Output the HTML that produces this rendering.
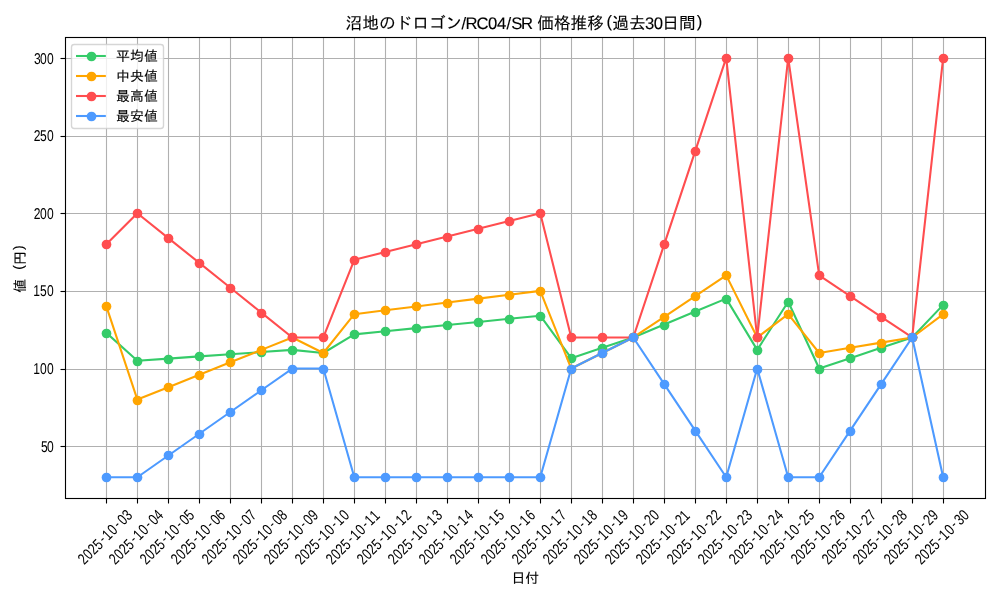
<!DOCTYPE html>
<html lang="ja"><head><meta charset="utf-8"><title>沼地のドロゴン/RC04/SR 価格推移(過去30日間)</title>
<style>html,body{margin:0;padding:0;background:#fff;overflow:hidden}svg{display:block}text{font-family:"Liberation Sans", "IPAGothic", "Noto Sans CJK JP", sans-serif;fill:#000;text-rendering:geometricPrecision}.j{stroke:#000;stroke-width:0.12px}</style>
</head><body>
<svg width="1000" height="600" viewBox="0 0 1000 600">
<rect width="1000" height="600" fill="#fff"/>
<g stroke="#b0b0b0" stroke-width="1.11" fill="none">
<line x1="106.5" y1="36.99" x2="106.5" y2="498.19"/>
<line x1="137.5" y1="36.99" x2="137.5" y2="498.19"/>
<line x1="168.5" y1="36.99" x2="168.5" y2="498.19"/>
<line x1="199.5" y1="36.99" x2="199.5" y2="498.19"/>
<line x1="230.5" y1="36.99" x2="230.5" y2="498.19"/>
<line x1="261.5" y1="36.99" x2="261.5" y2="498.19"/>
<line x1="292.5" y1="36.99" x2="292.5" y2="498.19"/>
<line x1="323.5" y1="36.99" x2="323.5" y2="498.19"/>
<line x1="354.5" y1="36.99" x2="354.5" y2="498.19"/>
<line x1="385.5" y1="36.99" x2="385.5" y2="498.19"/>
<line x1="416.5" y1="36.99" x2="416.5" y2="498.19"/>
<line x1="447.5" y1="36.99" x2="447.5" y2="498.19"/>
<line x1="478.5" y1="36.99" x2="478.5" y2="498.19"/>
<line x1="509.5" y1="36.99" x2="509.5" y2="498.19"/>
<line x1="540.5" y1="36.99" x2="540.5" y2="498.19"/>
<line x1="571.5" y1="36.99" x2="571.5" y2="498.19"/>
<line x1="602.5" y1="36.99" x2="602.5" y2="498.19"/>
<line x1="633.5" y1="36.99" x2="633.5" y2="498.19"/>
<line x1="664.5" y1="36.99" x2="664.5" y2="498.19"/>
<line x1="695.5" y1="36.99" x2="695.5" y2="498.19"/>
<line x1="726.5" y1="36.99" x2="726.5" y2="498.19"/>
<line x1="757.5" y1="36.99" x2="757.5" y2="498.19"/>
<line x1="788.5" y1="36.99" x2="788.5" y2="498.19"/>
<line x1="819.5" y1="36.99" x2="819.5" y2="498.19"/>
<line x1="850.5" y1="36.99" x2="850.5" y2="498.19"/>
<line x1="881.5" y1="36.99" x2="881.5" y2="498.19"/>
<line x1="912.5" y1="36.99" x2="912.5" y2="498.19"/>
<line x1="943.5" y1="36.99" x2="943.5" y2="498.19"/>
<line x1="64.53" y1="446.5" x2="985" y2="446.5"/>
<line x1="64.53" y1="369.5" x2="985" y2="369.5"/>
<line x1="64.53" y1="291.5" x2="985" y2="291.5"/>
<line x1="64.53" y1="213.5" x2="985" y2="213.5"/>
<line x1="64.53" y1="136.5" x2="985" y2="136.5"/>
<line x1="64.53" y1="58.5" x2="985" y2="58.5"/>
</g>
<g stroke="#000" stroke-width="1.11" fill="none">
<line x1="106.5" y1="498.5" x2="106.5" y2="503.5"/>
<line x1="137.5" y1="498.5" x2="137.5" y2="503.5"/>
<line x1="168.5" y1="498.5" x2="168.5" y2="503.5"/>
<line x1="199.5" y1="498.5" x2="199.5" y2="503.5"/>
<line x1="230.5" y1="498.5" x2="230.5" y2="503.5"/>
<line x1="261.5" y1="498.5" x2="261.5" y2="503.5"/>
<line x1="292.5" y1="498.5" x2="292.5" y2="503.5"/>
<line x1="323.5" y1="498.5" x2="323.5" y2="503.5"/>
<line x1="354.5" y1="498.5" x2="354.5" y2="503.5"/>
<line x1="385.5" y1="498.5" x2="385.5" y2="503.5"/>
<line x1="416.5" y1="498.5" x2="416.5" y2="503.5"/>
<line x1="447.5" y1="498.5" x2="447.5" y2="503.5"/>
<line x1="478.5" y1="498.5" x2="478.5" y2="503.5"/>
<line x1="509.5" y1="498.5" x2="509.5" y2="503.5"/>
<line x1="540.5" y1="498.5" x2="540.5" y2="503.5"/>
<line x1="571.5" y1="498.5" x2="571.5" y2="503.5"/>
<line x1="602.5" y1="498.5" x2="602.5" y2="503.5"/>
<line x1="633.5" y1="498.5" x2="633.5" y2="503.5"/>
<line x1="664.5" y1="498.5" x2="664.5" y2="503.5"/>
<line x1="695.5" y1="498.5" x2="695.5" y2="503.5"/>
<line x1="726.5" y1="498.5" x2="726.5" y2="503.5"/>
<line x1="757.5" y1="498.5" x2="757.5" y2="503.5"/>
<line x1="788.5" y1="498.5" x2="788.5" y2="503.5"/>
<line x1="819.5" y1="498.5" x2="819.5" y2="503.5"/>
<line x1="850.5" y1="498.5" x2="850.5" y2="503.5"/>
<line x1="881.5" y1="498.5" x2="881.5" y2="503.5"/>
<line x1="912.5" y1="498.5" x2="912.5" y2="503.5"/>
<line x1="943.5" y1="498.5" x2="943.5" y2="503.5"/>
<line x1="60.5" y1="446.5" x2="65.5" y2="446.5"/>
<line x1="60.5" y1="369.5" x2="65.5" y2="369.5"/>
<line x1="60.5" y1="291.5" x2="65.5" y2="291.5"/>
<line x1="60.5" y1="213.5" x2="65.5" y2="213.5"/>
<line x1="60.5" y1="136.5" x2="65.5" y2="136.5"/>
<line x1="60.5" y1="58.5" x2="65.5" y2="58.5"/>
</g>
<polyline points="106.37,332.81 137.36,360.76 168.35,358.59 199.35,356.41 230.34,354.24 261.33,352.07 292.32,349.89 323.32,353 354.31,334.36 385.3,331.26 416.29,328.15 447.28,325.05 478.28,321.94 509.27,318.83 540.26,315.73 571.25,358.17 602.25,347.83 633.24,337.47 664.23,324.53 695.22,311.58 726.21,298.65 757.21,349.89 788.2,301.75 819.19,368.53 850.18,358.17 881.18,347.83 912.17,337.47 943.16,304.86" fill="none" stroke="#35cb69" stroke-width="2.08" stroke-linejoin="round" stroke-linecap="square"/>
<g fill="#35cb69">
<circle cx="106.5" cy="333.5" r="4.86"/>
<circle cx="137.5" cy="361.5" r="4.86"/>
<circle cx="168.5" cy="359.5" r="4.86"/>
<circle cx="199.5" cy="356.5" r="4.86"/>
<circle cx="230.5" cy="354.5" r="4.86"/>
<circle cx="261.5" cy="352.5" r="4.86"/>
<circle cx="292.5" cy="350.5" r="4.86"/>
<circle cx="323.5" cy="353.5" r="4.86"/>
<circle cx="354.5" cy="334.5" r="4.86"/>
<circle cx="385.5" cy="331.5" r="4.86"/>
<circle cx="416.5" cy="328.5" r="4.86"/>
<circle cx="447.5" cy="325.5" r="4.86"/>
<circle cx="478.5" cy="322.5" r="4.86"/>
<circle cx="509.5" cy="319.5" r="4.86"/>
<circle cx="540.5" cy="316.5" r="4.86"/>
<circle cx="571.5" cy="358.5" r="4.86"/>
<circle cx="602.5" cy="348.5" r="4.86"/>
<circle cx="633.5" cy="337.5" r="4.86"/>
<circle cx="664.5" cy="325.5" r="4.86"/>
<circle cx="695.5" cy="312.5" r="4.86"/>
<circle cx="726.5" cy="299.5" r="4.86"/>
<circle cx="757.5" cy="350.5" r="4.86"/>
<circle cx="788.5" cy="302.5" r="4.86"/>
<circle cx="819.5" cy="369.5" r="4.86"/>
<circle cx="850.5" cy="358.5" r="4.86"/>
<circle cx="881.5" cy="348.5" r="4.86"/>
<circle cx="912.5" cy="337.5" r="4.86"/>
<circle cx="943.5" cy="305.5" r="4.86"/>
</g>
<polyline points="106.37,306.41 137.36,399.58 168.35,387.16 199.35,374.74 230.34,362.31 261.33,349.89 292.32,337.47 323.32,353 354.31,314.18 385.3,310.29 416.29,306.41 447.28,302.53 478.28,298.65 509.27,294.77 540.26,290.88 571.25,368.53 602.25,353 633.24,337.47 664.23,316.77 695.22,296.05 726.21,275.35 757.21,337.47 788.2,314.18 819.19,353 850.18,347.83 881.18,342.64 912.17,337.47 943.16,314.18" fill="none" stroke="#ffa500" stroke-width="2.08" stroke-linejoin="round" stroke-linecap="square"/>
<g fill="#ffa500">
<circle cx="106.5" cy="306.5" r="4.86"/>
<circle cx="137.5" cy="400.5" r="4.86"/>
<circle cx="168.5" cy="387.5" r="4.86"/>
<circle cx="199.5" cy="375.5" r="4.86"/>
<circle cx="230.5" cy="362.5" r="4.86"/>
<circle cx="261.5" cy="350.5" r="4.86"/>
<circle cx="292.5" cy="337.5" r="4.86"/>
<circle cx="323.5" cy="353.5" r="4.86"/>
<circle cx="354.5" cy="314.5" r="4.86"/>
<circle cx="385.5" cy="310.5" r="4.86"/>
<circle cx="416.5" cy="306.5" r="4.86"/>
<circle cx="447.5" cy="303.5" r="4.86"/>
<circle cx="478.5" cy="299.5" r="4.86"/>
<circle cx="509.5" cy="295.5" r="4.86"/>
<circle cx="540.5" cy="291.5" r="4.86"/>
<circle cx="571.5" cy="369.5" r="4.86"/>
<circle cx="602.5" cy="353.5" r="4.86"/>
<circle cx="633.5" cy="337.5" r="4.86"/>
<circle cx="664.5" cy="317.5" r="4.86"/>
<circle cx="695.5" cy="296.5" r="4.86"/>
<circle cx="726.5" cy="275.5" r="4.86"/>
<circle cx="757.5" cy="337.5" r="4.86"/>
<circle cx="788.5" cy="314.5" r="4.86"/>
<circle cx="819.5" cy="353.5" r="4.86"/>
<circle cx="850.5" cy="348.5" r="4.86"/>
<circle cx="881.5" cy="343.5" r="4.86"/>
<circle cx="912.5" cy="337.5" r="4.86"/>
<circle cx="943.5" cy="314.5" r="4.86"/>
</g>
<polyline points="106.37,244.3 137.36,213.24 168.35,238.09 199.35,262.93 230.34,287.78 261.33,312.62 292.32,337.47 323.32,337.47 354.31,259.83 385.3,252.06 416.29,244.3 447.28,236.53 478.28,228.77 509.27,221 540.26,213.24 571.25,337.47 602.25,337.47 633.24,337.47 664.23,244.3 695.22,151.13 726.21,57.95 757.21,337.47 788.2,57.95 819.19,275.35 850.18,296.05 881.18,316.77 912.17,337.47 943.16,57.95" fill="none" stroke="#ff4d4f" stroke-width="2.08" stroke-linejoin="round" stroke-linecap="square"/>
<g fill="#ff4d4f">
<circle cx="106.5" cy="244.5" r="4.86"/>
<circle cx="137.5" cy="213.5" r="4.86"/>
<circle cx="168.5" cy="238.5" r="4.86"/>
<circle cx="199.5" cy="263.5" r="4.86"/>
<circle cx="230.5" cy="288.5" r="4.86"/>
<circle cx="261.5" cy="313.5" r="4.86"/>
<circle cx="292.5" cy="337.5" r="4.86"/>
<circle cx="323.5" cy="337.5" r="4.86"/>
<circle cx="354.5" cy="260.5" r="4.86"/>
<circle cx="385.5" cy="252.5" r="4.86"/>
<circle cx="416.5" cy="244.5" r="4.86"/>
<circle cx="447.5" cy="237.5" r="4.86"/>
<circle cx="478.5" cy="229.5" r="4.86"/>
<circle cx="509.5" cy="221.5" r="4.86"/>
<circle cx="540.5" cy="213.5" r="4.86"/>
<circle cx="571.5" cy="337.5" r="4.86"/>
<circle cx="602.5" cy="337.5" r="4.86"/>
<circle cx="633.5" cy="337.5" r="4.86"/>
<circle cx="664.5" cy="244.5" r="4.86"/>
<circle cx="695.5" cy="151.5" r="4.86"/>
<circle cx="726.5" cy="58.5" r="4.86"/>
<circle cx="757.5" cy="337.5" r="4.86"/>
<circle cx="788.5" cy="58.5" r="4.86"/>
<circle cx="819.5" cy="275.5" r="4.86"/>
<circle cx="850.5" cy="296.5" r="4.86"/>
<circle cx="881.5" cy="317.5" r="4.86"/>
<circle cx="912.5" cy="337.5" r="4.86"/>
<circle cx="943.5" cy="58.5" r="4.86"/>
</g>
<polyline points="106.37,477.23 137.36,477.23 168.35,455.49 199.35,433.75 230.34,412.01 261.33,390.27 292.32,368.53 323.32,368.53 354.31,477.23 385.3,477.23 416.29,477.23 447.28,477.23 478.28,477.23 509.27,477.23 540.26,477.23 571.25,368.53 602.25,353 633.24,337.47 664.23,384.05 695.22,430.64 726.21,477.23 757.21,368.53 788.2,477.23 819.19,477.23 850.18,430.64 881.18,384.05 912.17,337.47 943.16,477.23" fill="none" stroke="#4d9aff" stroke-width="2.08" stroke-linejoin="round" stroke-linecap="square"/>
<g fill="#4d9aff">
<circle cx="106.5" cy="477.5" r="4.86"/>
<circle cx="137.5" cy="477.5" r="4.86"/>
<circle cx="168.5" cy="455.5" r="4.86"/>
<circle cx="199.5" cy="434.5" r="4.86"/>
<circle cx="230.5" cy="412.5" r="4.86"/>
<circle cx="261.5" cy="390.5" r="4.86"/>
<circle cx="292.5" cy="369.5" r="4.86"/>
<circle cx="323.5" cy="369.5" r="4.86"/>
<circle cx="354.5" cy="477.5" r="4.86"/>
<circle cx="385.5" cy="477.5" r="4.86"/>
<circle cx="416.5" cy="477.5" r="4.86"/>
<circle cx="447.5" cy="477.5" r="4.86"/>
<circle cx="478.5" cy="477.5" r="4.86"/>
<circle cx="509.5" cy="477.5" r="4.86"/>
<circle cx="540.5" cy="477.5" r="4.86"/>
<circle cx="571.5" cy="369.5" r="4.86"/>
<circle cx="602.5" cy="353.5" r="4.86"/>
<circle cx="633.5" cy="337.5" r="4.86"/>
<circle cx="664.5" cy="384.5" r="4.86"/>
<circle cx="695.5" cy="431.5" r="4.86"/>
<circle cx="726.5" cy="477.5" r="4.86"/>
<circle cx="757.5" cy="369.5" r="4.86"/>
<circle cx="788.5" cy="477.5" r="4.86"/>
<circle cx="819.5" cy="477.5" r="4.86"/>
<circle cx="850.5" cy="431.5" r="4.86"/>
<circle cx="881.5" cy="384.5" r="4.86"/>
<circle cx="912.5" cy="337.5" r="4.86"/>
<circle cx="943.5" cy="477.5" r="4.86"/>
</g>
<rect x="65.5" y="37.5" width="920" height="461" fill="none" stroke="#000" stroke-width="1.11"/>
<text transform="translate(53.71,452) translate(0,-0) scale(0.87,1.13)" x="-14.74 -7.85" font-size="13.89">50</text>
<text transform="translate(53.71,374) translate(0,-0) scale(0.87,1.13)" x="-23.58 -15.83 -7.85" font-size="13.89">100</text>
<text transform="translate(53.71,296) translate(0,-0) scale(0.87,1.13)" x="-23.58 -15.77 -7.85" font-size="13.89">150</text>
<text transform="translate(53.71,219) translate(0,-0) scale(0.87,1.13)" x="-22.85 -15.83 -7.85" font-size="13.89">200</text>
<text transform="translate(53.71,141) translate(0,-0) scale(0.87,1.13)" x="-22.85 -15.77 -7.85" font-size="13.89">250</text>
<text transform="translate(53.71,64) translate(0,-0) scale(0.87,1.13)" x="-22.76 -15.83 -7.85" font-size="13.89">300</text>
<text transform="translate(105.17,537) rotate(-45) translate(0,5.2) translate(0,-0) scale(0.87,1.13)" x="-39.84 -31.8 -23.88 -15.77 -6.3 -0.67 8.11 17.64 24.08 32.08" y="0 0 0 0 -1.11 0 0 -1.11 0 0" font-size="13.89">2025-10-03</text>
<text transform="translate(136.16,537) rotate(-45) translate(0,5.2) translate(0,-0) scale(0.87,1.13)" x="-39.84 -31.8 -23.88 -15.77 -6.3 -0.67 8.11 17.64 24.08 32.1" y="0 0 0 0 -1.11 0 0 -1.11 0 0" font-size="13.89">2025-10-04</text>
<text transform="translate(167.15,537) rotate(-45) translate(0,5.2) translate(0,-0) scale(0.87,1.13)" x="-39.84 -31.8 -23.88 -15.77 -6.3 -0.67 8.11 17.64 24.08 32.12" y="0 0 0 0 -1.11 0 0 -1.11 0 0" font-size="13.89">2025-10-05</text>
<text transform="translate(198.15,537) rotate(-45) translate(0,5.2) translate(0,-0) scale(0.87,1.13)" x="-39.84 -31.8 -23.88 -15.77 -6.3 -0.67 8.11 17.64 24.08 32.04" y="0 0 0 0 -1.11 0 0 -1.11 0 0" font-size="13.89">2025-10-06</text>
<text transform="translate(229.14,537) rotate(-45) translate(0,5.2) translate(0,-0) scale(0.87,1.13)" x="-39.84 -31.8 -23.88 -15.77 -6.3 -0.67 8.11 17.64 24.08 32.05" y="0 0 0 0 -1.11 0 0 -1.11 0 0" font-size="13.89">2025-10-07</text>
<text transform="translate(260.13,537) rotate(-45) translate(0,5.2) translate(0,-0) scale(0.87,1.13)" x="-39.84 -31.8 -23.88 -15.77 -6.3 -0.67 8.11 17.64 24.08 32.06" y="0 0 0 0 -1.11 0 0 -1.11 0 0" font-size="13.89">2025-10-08</text>
<text transform="translate(291.12,537) rotate(-45) translate(0,5.2) translate(0,-0) scale(0.87,1.13)" x="-39.84 -31.8 -23.88 -15.77 -6.3 -0.67 8.11 17.64 24.08 32.1" y="0 0 0 0 -1.11 0 0 -1.11 0 0" font-size="13.89">2025-10-09</text>
<text transform="translate(322.12,537) rotate(-45) translate(0,5.2) translate(0,-0) scale(0.87,1.13)" x="-39.84 -31.8 -23.88 -15.77 -6.3 -0.67 8.11 17.64 23.27 32.06" y="0 0 0 0 -1.11 0 0 -1.11 0 0" font-size="13.89">2025-10-10</text>
<text transform="translate(353.11,537) rotate(-45) translate(0,5.2) translate(0,-0) scale(0.87,1.13)" x="-39.84 -31.8 -23.88 -15.77 -6.3 -0.67 8.11 17.64 23.27 31.26" y="0 0 0 0 -1.11 0 0 -1.11 0 0" font-size="13.89">2025-10-11</text>
<text transform="translate(384.1,537) rotate(-45) translate(0,5.2) translate(0,-0) scale(0.87,1.13)" x="-39.84 -31.8 -23.88 -15.77 -6.3 -0.67 8.11 17.64 23.27 31.99" y="0 0 0 0 -1.11 0 0 -1.11 0 0" font-size="13.89">2025-10-12</text>
<text transform="translate(415.09,537) rotate(-45) translate(0,5.2) translate(0,-0) scale(0.87,1.13)" x="-39.84 -31.8 -23.88 -15.77 -6.3 -0.67 8.11 17.64 23.27 32.08" y="0 0 0 0 -1.11 0 0 -1.11 0 0" font-size="13.89">2025-10-13</text>
<text transform="translate(446.08,537) rotate(-45) translate(0,5.2) translate(0,-0) scale(0.87,1.13)" x="-39.84 -31.8 -23.88 -15.77 -6.3 -0.67 8.11 17.64 23.27 32.1" y="0 0 0 0 -1.11 0 0 -1.11 0 0" font-size="13.89">2025-10-14</text>
<text transform="translate(477.08,537) rotate(-45) translate(0,5.2) translate(0,-0) scale(0.87,1.13)" x="-39.84 -31.8 -23.88 -15.77 -6.3 -0.67 8.11 17.64 23.27 32.12" y="0 0 0 0 -1.11 0 0 -1.11 0 0" font-size="13.89">2025-10-15</text>
<text transform="translate(508.07,537) rotate(-45) translate(0,5.2) translate(0,-0) scale(0.87,1.13)" x="-39.84 -31.8 -23.88 -15.77 -6.3 -0.67 8.11 17.64 23.27 32.04" y="0 0 0 0 -1.11 0 0 -1.11 0 0" font-size="13.89">2025-10-16</text>
<text transform="translate(539.06,537) rotate(-45) translate(0,5.2) translate(0,-0) scale(0.87,1.13)" x="-39.84 -31.8 -23.88 -15.77 -6.3 -0.67 8.11 17.64 23.27 32.05" y="0 0 0 0 -1.11 0 0 -1.11 0 0" font-size="13.89">2025-10-17</text>
<text transform="translate(570.05,537) rotate(-45) translate(0,5.2) translate(0,-0) scale(0.87,1.13)" x="-39.84 -31.8 -23.88 -15.77 -6.3 -0.67 8.11 17.64 23.27 32.06" y="0 0 0 0 -1.11 0 0 -1.11 0 0" font-size="13.89">2025-10-18</text>
<text transform="translate(601.05,537) rotate(-45) translate(0,5.2) translate(0,-0) scale(0.87,1.13)" x="-39.84 -31.8 -23.88 -15.77 -6.3 -0.67 8.11 17.64 23.27 32.1" y="0 0 0 0 -1.11 0 0 -1.11 0 0" font-size="13.89">2025-10-19</text>
<text transform="translate(632.04,537) rotate(-45) translate(0,5.2) translate(0,-0) scale(0.87,1.13)" x="-39.84 -31.8 -23.88 -15.77 -6.3 -0.67 8.11 17.64 24.01 32.06" y="0 0 0 0 -1.11 0 0 -1.11 0 0" font-size="13.89">2025-10-20</text>
<text transform="translate(663.03,537) rotate(-45) translate(0,5.2) translate(0,-0) scale(0.87,1.13)" x="-39.84 -31.8 -23.88 -15.77 -6.3 -0.67 8.11 17.64 24.01 31.26" y="0 0 0 0 -1.11 0 0 -1.11 0 0" font-size="13.89">2025-10-21</text>
<text transform="translate(694.02,537) rotate(-45) translate(0,5.2) translate(0,-0) scale(0.87,1.13)" x="-39.84 -31.8 -23.88 -15.77 -6.3 -0.67 8.11 17.64 24.01 31.99" y="0 0 0 0 -1.11 0 0 -1.11 0 0" font-size="13.89">2025-10-22</text>
<text transform="translate(725.01,537) rotate(-45) translate(0,5.2) translate(0,-0) scale(0.87,1.13)" x="-39.84 -31.8 -23.88 -15.77 -6.3 -0.67 8.11 17.64 24.01 32.08" y="0 0 0 0 -1.11 0 0 -1.11 0 0" font-size="13.89">2025-10-23</text>
<text transform="translate(756.01,537) rotate(-45) translate(0,5.2) translate(0,-0) scale(0.87,1.13)" x="-39.84 -31.8 -23.88 -15.77 -6.3 -0.67 8.11 17.64 24.01 32.1" y="0 0 0 0 -1.11 0 0 -1.11 0 0" font-size="13.89">2025-10-24</text>
<text transform="translate(787,537) rotate(-45) translate(0,5.2) translate(0,-0) scale(0.87,1.13)" x="-39.84 -31.8 -23.88 -15.77 -6.3 -0.67 8.11 17.64 24.01 32.12" y="0 0 0 0 -1.11 0 0 -1.11 0 0" font-size="13.89">2025-10-25</text>
<text transform="translate(817.99,537) rotate(-45) translate(0,5.2) translate(0,-0) scale(0.87,1.13)" x="-39.84 -31.8 -23.88 -15.77 -6.3 -0.67 8.11 17.64 24.01 32.04" y="0 0 0 0 -1.11 0 0 -1.11 0 0" font-size="13.89">2025-10-26</text>
<text transform="translate(848.98,537) rotate(-45) translate(0,5.2) translate(0,-0) scale(0.87,1.13)" x="-39.84 -31.8 -23.88 -15.77 -6.3 -0.67 8.11 17.64 24.01 32.05" y="0 0 0 0 -1.11 0 0 -1.11 0 0" font-size="13.89">2025-10-27</text>
<text transform="translate(879.98,537) rotate(-45) translate(0,5.2) translate(0,-0) scale(0.87,1.13)" x="-39.84 -31.8 -23.88 -15.77 -6.3 -0.67 8.11 17.64 24.01 32.06" y="0 0 0 0 -1.11 0 0 -1.11 0 0" font-size="13.89">2025-10-28</text>
<text transform="translate(910.97,537) rotate(-45) translate(0,5.2) translate(0,-0) scale(0.87,1.13)" x="-39.84 -31.8 -23.88 -15.77 -6.3 -0.67 8.11 17.64 24.01 32.1" y="0 0 0 0 -1.11 0 0 -1.11 0 0" font-size="13.89">2025-10-29</text>
<text transform="translate(941.96,537) rotate(-45) translate(0,5.2) translate(0,-0) scale(0.87,1.13)" x="-39.84 -31.8 -23.88 -15.77 -6.3 -0.67 8.11 17.64 24.1 32.06" y="0 0 0 0 -1.11 0 0 -1.11 0 0" font-size="13.89">2025-10-30</text>
<text class="j" x="511.38 525.26" y="582.9 582.9" font-size="13.89">日付</text>
<text class="j" x="-25.11 -11.22 -2.11 2.67 17.55" y="0 0 -1.53 0 -1.53" font-size="13.89" transform="translate(24.85,267.59) rotate(-90)">値 (円)</text>
<text class="j" x="345.6 362.27 378.93 395.6 412.26 428.93 445.6 461.38 465.4 476.57 488.07 497.05 506.58 511.22 520.95 528.93 537.26 553.93 570.6 587.26 606.53 612.26 628.93 645 653.63 662.26 678.93 696.78" y="28.66 28.66 28.66 28.66 28.66 28.66 28.66 28.66 28.66 28.66 28.66 28.66 28.66 28.66 28.66 28.66 28.66 28.66 28.66 28.66 27.24 28.66 28.66 28.66 28.66 28.66 28.66 27.24" font-size="16.67">沼地のドロゴン/RC04/SR 価格推移(過去30日間)</text>
<rect x="71.5" y="44.5" width="92" height="84" rx="2.78" ry="2.78" fill="#fff" fill-opacity="0.8" stroke="#ccc" stroke-opacity="0.8" stroke-width="1.39"/>
<line x1="77.03" y1="56" x2="104.81" y2="56" stroke="#35cb69" stroke-width="2.08" stroke-linecap="square"/>
<circle cx="91.5" cy="56.5" r="4.86" fill="#35cb69"/>
<text class="j" x="116.12 130.01 143.9" y="61.15 61.15 61.15" font-size="13.89">平均値</text>
<line x1="77.03" y1="76" x2="104.81" y2="76" stroke="#ffa500" stroke-width="2.08" stroke-linecap="square"/>
<circle cx="91.5" cy="76.5" r="4.86" fill="#ffa500"/>
<text class="j" x="116.12 130.01 143.9" y="81.09 81.09 81.09" font-size="13.89">中央値</text>
<line x1="77.03" y1="96" x2="104.81" y2="96" stroke="#ff4d4f" stroke-width="2.08" stroke-linecap="square"/>
<circle cx="91.5" cy="96.5" r="4.86" fill="#ff4d4f"/>
<text class="j" x="116.12 130.01 143.9" y="101.08 101.08 101.08" font-size="13.89">最高値</text>
<line x1="77.03" y1="116" x2="104.81" y2="116" stroke="#4d9aff" stroke-width="2.08" stroke-linecap="square"/>
<circle cx="91.5" cy="116.5" r="4.86" fill="#4d9aff"/>
<text class="j" x="116.12 130.01 143.9" y="121.21 121.21 121.21" font-size="13.89">最安値</text>
</svg>
</body></html>
